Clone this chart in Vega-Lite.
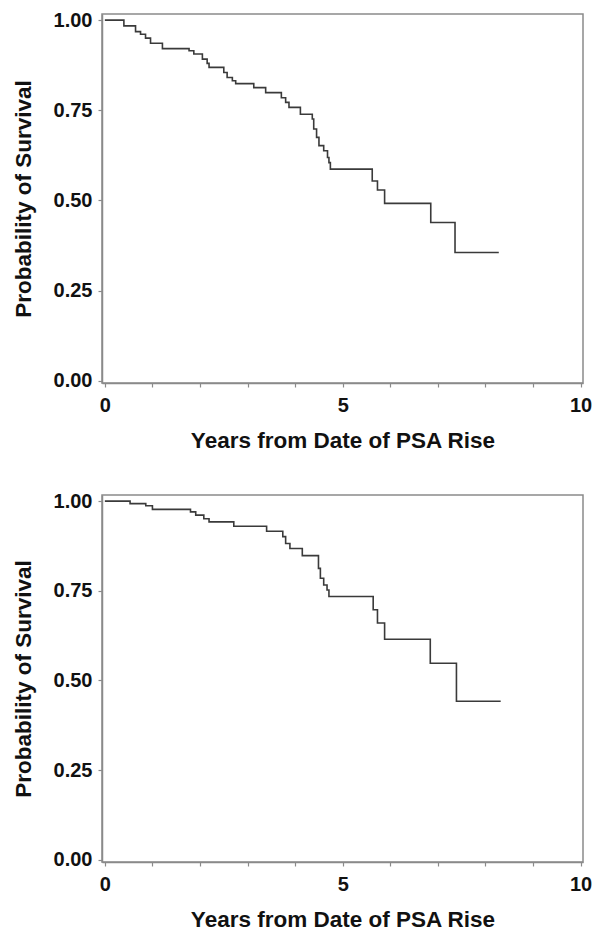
{
  "$schema": "https://vega.github.io/schema/vega-lite/v6.json",
  "padding": {"left": 11, "top": 9, "right": 5, "bottom": 0},
  "background": "white",
  "spacing": 37,
  "datasets": {
    "top": [
      {"t": 0, "s": 1.0},
      {"t": 0.40, "s": 0.984},
      {"t": 0.645, "s": 0.968},
      {"t": 0.75, "s": 0.961},
      {"t": 0.855, "s": 0.950},
      {"t": 0.96, "s": 0.936},
      {"t": 1.21, "s": 0.921},
      {"t": 1.77, "s": 0.915},
      {"t": 1.87, "s": 0.906},
      {"t": 2.05, "s": 0.892},
      {"t": 2.15, "s": 0.880},
      {"t": 2.19, "s": 0.869},
      {"t": 2.50, "s": 0.855},
      {"t": 2.57, "s": 0.841},
      {"t": 2.68, "s": 0.832},
      {"t": 2.75, "s": 0.824},
      {"t": 3.13, "s": 0.813},
      {"t": 3.38, "s": 0.799},
      {"t": 3.71, "s": 0.785},
      {"t": 3.80, "s": 0.772},
      {"t": 3.87, "s": 0.758},
      {"t": 4.11, "s": 0.739},
      {"t": 4.36, "s": 0.726},
      {"t": 4.39, "s": 0.698},
      {"t": 4.45, "s": 0.675},
      {"t": 4.50, "s": 0.652},
      {"t": 4.60, "s": 0.638},
      {"t": 4.68, "s": 0.619},
      {"t": 4.71, "s": 0.605},
      {"t": 4.74, "s": 0.587},
      {"t": 5.62, "s": 0.554},
      {"t": 5.73, "s": 0.529},
      {"t": 5.88, "s": 0.492},
      {"t": 6.85, "s": 0.439},
      {"t": 7.36, "s": 0.356},
      {"t": 8.28, "s": 0.356}
    ],
    "bottom": [
      {"t": 0, "s": 1.0},
      {"t": 0.53, "s": 0.993},
      {"t": 0.86, "s": 0.987},
      {"t": 1.00, "s": 0.977},
      {"t": 1.80, "s": 0.970},
      {"t": 1.91, "s": 0.961},
      {"t": 2.08, "s": 0.951},
      {"t": 2.19, "s": 0.942},
      {"t": 2.71, "s": 0.930},
      {"t": 3.40, "s": 0.916},
      {"t": 3.74, "s": 0.901},
      {"t": 3.80, "s": 0.882},
      {"t": 3.89, "s": 0.868},
      {"t": 4.15, "s": 0.848},
      {"t": 4.49, "s": 0.8125},
      {"t": 4.53, "s": 0.785},
      {"t": 4.60, "s": 0.766},
      {"t": 4.67, "s": 0.752},
      {"t": 4.71, "s": 0.734},
      {"t": 5.64, "s": 0.697},
      {"t": 5.73, "s": 0.660},
      {"t": 5.88, "s": 0.615},
      {"t": 6.84, "s": 0.548},
      {"t": 7.39, "s": 0.442},
      {"t": 8.32, "s": 0.442}
    ]
  },
  "vconcat": [
    {
      "width": 481,
      "height": 369,
      "data": {"name": "top"},
      "mark": {"type": "line", "interpolate": "step-after", "color": "#3a3a3a", "strokeWidth": 1.6},
      "encoding": {
        "x": {"field": "t", "type": "quantitative", "scale": {"domain": [-0.06, 10.05], "nice": false, "zero": false},
              "axis": {"title": "Years from Date of PSA Rise", "values": [0,1,2,3,4,5,6,7,8,9,10], "labelExpr": "datum.value % 5 == 0 ? datum.label : ''"}},
        "y": {"field": "s", "type": "quantitative", "scale": {"domain": [-0.006, 1.017], "nice": false, "zero": false},
              "axis": {"title": "Probability of Survival", "values": [0, 0.25, 0.5, 0.75, 1], "format": ".2f"}}
      }
    },
    {
      "width": 481,
      "height": 367,
      "data": {"name": "bottom"},
      "mark": {"type": "line", "interpolate": "step-after", "color": "#3a3a3a", "strokeWidth": 1.6},
      "encoding": {
        "x": {"field": "t", "type": "quantitative", "scale": {"domain": [-0.06, 10.05], "nice": false, "zero": false},
              "axis": {"title": "Years from Date of PSA Rise", "values": [0,1,2,3,4,5,6,7,8,9,10], "labelExpr": "datum.value % 5 == 0 ? datum.label : ''"}},
        "y": {"field": "s", "type": "quantitative", "scale": {"domain": [-0.006, 1.017], "nice": false, "zero": false},
              "axis": {"title": "Probability of Survival", "values": [0, 0.25, 0.5, 0.75, 1], "format": ".2f"}}
      }
    }
  ],
  "config": {
    "view": {"stroke": "#8a8a8a", "strokeWidth": 1.5},
    "axis": {
      "grid": false,
      "domainColor": "#8a8a8a",
      "domainWidth": 1.5,
      "tickColor": "#8a8a8a",
      "tickSize": 4,
      "tickWidth": 1.2,
      "labelFont": "Liberation Sans",
      "labelFontWeight": "bold",
      "labelFontSize": 20,
      "labelColor": "#111111",
      "titleFont": "Liberation Sans",
      "titleFontWeight": "bold",
      "titleFontSize": 22.5,
      "titleColor": "#111111"
    },
    "axisX": {"labelPadding": 8, "titlePadding": 14, "labelFlush": false},
    "axisY": {"labelPadding": 6, "titlePadding": 18}
  }
}
